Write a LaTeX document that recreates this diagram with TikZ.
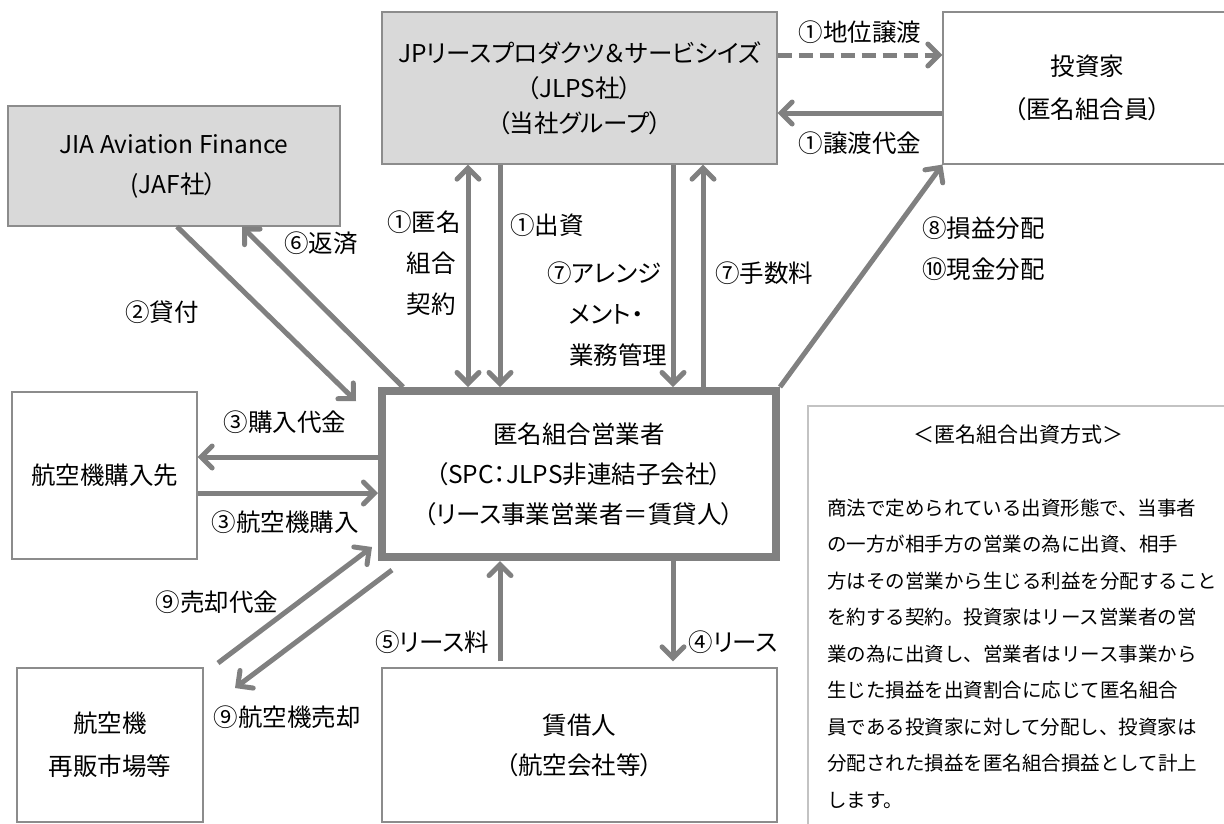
\documentclass[tikz,border=0pt]{standalone}
\usepackage{fontspec}
\setmainfont{Noto Sans CJK JP}[RawFeature=+palt]
\newfontfamily\notejp{Noto Sans CJK JP}
\usetikzlibrary{arrows.meta,positioning}

\definecolor{arrowgray}{RGB}{128,128,128}
\definecolor{framegray}{RGB}{140,140,140}
\definecolor{boxfill}{RGB}{217,217,217}
\definecolor{notegray}{RGB}{195,195,195}

\newcommand\boxfont{\fontsize{24.5}{40}\selectfont}
\newcommand\lblfont{\fontsize{24.5}{41}\selectfont}
\newcommand\notefont{\notejp\fontsize{19.5}{36.5}\selectfont}

\begin{document}
\begin{tikzpicture}[x=1pt, y=-1pt,
    >={Straight Barb[length=11pt, width=22pt, line cap=round]},
    box/.style={draw=framegray, line width=1.2pt, inner sep=0pt, align=center, font=\boxfont},
    greybox/.style={box, fill=boxfill},
    flow/.style={draw=arrowgray, line width=5pt},
    lbl/.style={inner sep=0pt, align=center, font=\lblfont}
]
\useasboundingbox (0,0) rectangle (1224,823);
\clip (0,0) rectangle (1224,823);

% parties
\node[greybox, minimum width=395pt, minimum height=152pt] (jlps) at (579.5,88)
    {JPリースプロダクツ＆サービシイズ\\[-5pt]（JLPS社）\\[-5pt]（当社グループ）};
\node[box, minimum width=289pt, minimum height=152pt] (inv) at (1087.5,88)
    {投資家\\[3pt]（匿名組合員）};
\node[greybox, minimum width=332pt, minimum height=120pt] (jaf) at (174,166)
    {JIA Aviation Finance\\(JAF社）};
\node[box, draw=arrowgray, line width=8pt, minimum width=394pt, minimum height=166pt] (spc) at (579,474)
    {匿名組合営業者\\（SPC：JLPS非連結子会社）\\（リース事業営業者＝賃貸人）};
\node[box, minimum width=185pt, minimum height=167pt] (seller) at (104.5,475.5) {航空機購入先};
\node[box, minimum width=186pt, minimum height=154pt] (market) at (110,745)
    {航空機\\[3pt]再販市場等};
\node[box, minimum width=395pt, minimum height=154pt] (lessee) at (579.5,745)
    {賃借人\\（航空会社等）};

% note
\node[draw=notegray, line width=1.5pt, minimum width=424pt, minimum height=426pt] (note) at (1020,619) {};
\node[inner sep=0pt, font=\notejp\fontsize{21}{24}\selectfont] (notetitle) at (1018,435) {＜匿名組合出資方式＞};
\foreach \t [count=\i] in {商法で定められている出資形態で、当事者,
    の一方が相手方の営業の為に出資、相手,
    方はその営業から生じる利益を分配すること,
    を約する契約。投資家はリース営業者の営,
    業の為に出資し、営業者はリース事業から,
    生じた損益を出資割合に応じて匿名組合,
    員である投資家に対して分配し、投資家は,
    分配された損益を匿名組合損益として計上,
    します。}
    \node[anchor=west, inner sep=0pt, font=\notefont] (noteline\i) at (827,508+36.5*\i-36.5) {\t};

% flows
\coordinate (loanend) at (356,401);
\coordinate (salestart) at (218,663);
\coordinate (saleend) at (372,547);
\coordinate (marketend) at (235,688);

\draw[flow, ->, dash pattern=on 14pt off 7pt] (jlps.east |- 0,55) -- (inv.west |- 0,55);
\draw[flow, ->] (inv.west |- 0,113) -- (jlps.east |- 0,113);
\draw[flow, ->] (jaf.south -| 177,0) -- (loanend);
\draw[flow, ->] ([xshift=25pt]spc.north west) -- (jaf.south -| 242,0);
\draw[flow, <->] (jlps.south -| 468,0) -- (spc.north -| 468,0);
\draw[flow, ->] (jlps.south -| 500,0) -- (spc.north -| 500,0);
\draw[flow, ->] (jlps.south -| 673,0) -- (spc.north -| 673,0);
\draw[flow, ->] (spc.north -| 703,0) -- (jlps.south -| 703,0);
\draw[flow, ->] (spc.north east) -- (inv.south west);
\draw[flow, ->] (spc.west |- 0,457) -- (seller.east |- 0,457);
\draw[flow, ->] (seller.east |- 0,493) -- (spc.west |- 0,493);
\draw[flow, ->] (salestart) -- (saleend);
\draw[flow, ->] ([xshift=14pt, yshift=-9pt]spc.south west) -- (marketend);
\draw[flow, ->, shorten <=6pt] (lessee.north -| 500,0) -- (spc.south -| 500,0);
\draw[flow, ->, shorten >=6pt] (spc.south -| 673,0) -- (lessee.north -| 673,0);

% labels
\node[lbl] (l-status) at (860,32) {①地位譲渡};
\node[lbl] (l-price) at (860,143) {①譲渡代金};
\node[lbl] (l-loan) at (162,312) {②貸付};
\node[lbl] (l-repay) at (321,243) {⑥返済};
\node[lbl, anchor=west, align=left] (l-contract) at (387,263) {①匿名\\\hspace*{0.8em}組合\\\hspace*{0.8em}契約};
\node[lbl, anchor=west] (l-invest) at (510,225) {①出資};
\node[lbl, anchor=west, align=left] (l-arrange) at (547,314) {⑦アレンジ\\\hspace*{0.9em}メント・\\\hspace*{0.9em}業務管理};
\node[lbl] (l-fee) at (764,273) {⑦手数料};
\node[lbl, anchor=west, align=left] (l-dist) at (922,249) {⑧損益分配\\⑩現金分配};
\node[lbl] (l-buyprice) at (285,422) {③購入代金};
\node[lbl] (l-buy) at (285,522) {③航空機購入};
\node[lbl] (l-saleprice) at (217,602) {⑨売却代金};
\node[lbl] (l-sale) at (287,717) {⑨航空機売却};
\node[lbl] (l-rent) at (432,642) {⑤リース料};
\node[lbl] (l-lease) at (733,642) {④リース};
\end{tikzpicture}
\end{document}
